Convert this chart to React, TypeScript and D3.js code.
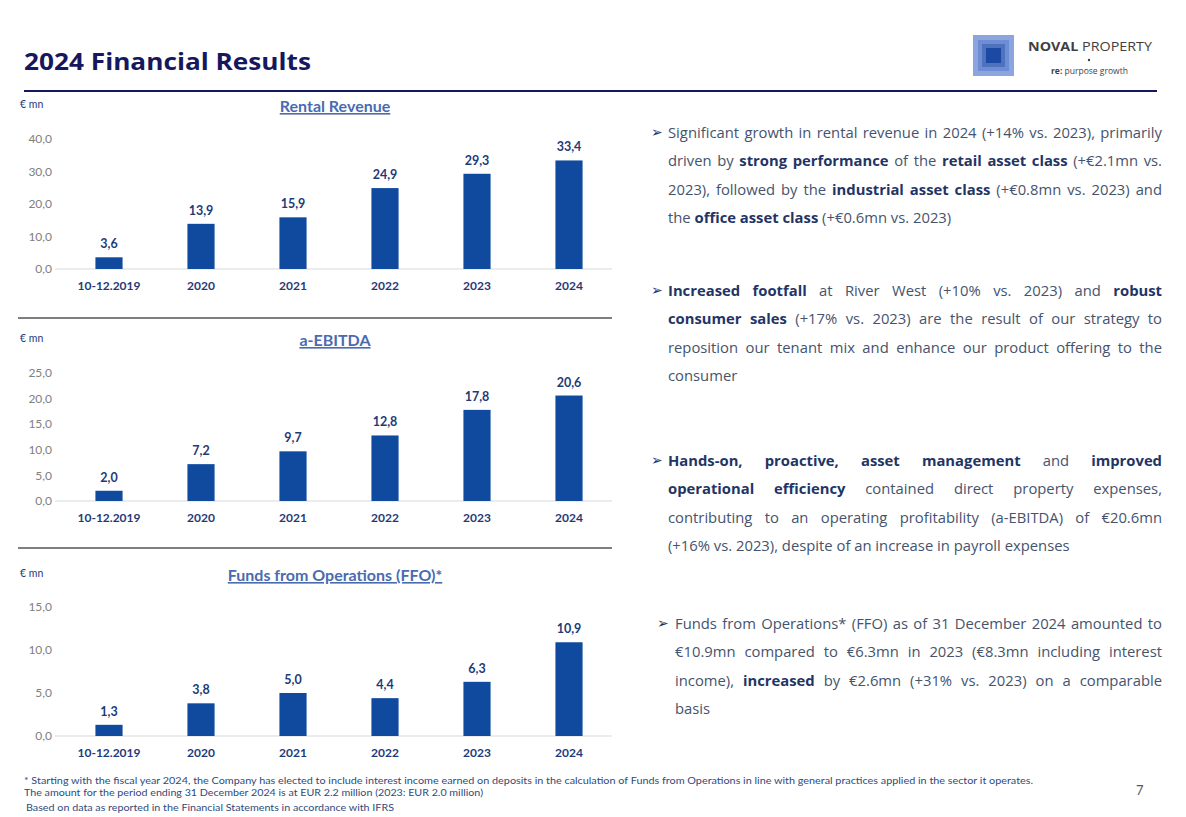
import * as d3 from 'd3';
import React from 'react';

// chart data
const categories = ['10-12.2019', '2020', '2021', '2022', '2023', '2024'];
const rentalRevenue = [3.6, 13.9, 15.9, 24.9, 29.3, 33.4];
const aEbitda = [2.0, 7.2, 9.7, 12.8, 17.8, 20.6];
const ffo = [1.3, 3.8, 5.0, 4.4, 6.3, 10.9];

const rentalTicks = [0, 10, 20, 30, 40];
const ebitdaTicks = [0, 5, 10, 15, 20, 25];
const ffoTicks = [0, 5, 10, 15];

const bullets = [
  [
    'Significant growth in rental revenue in 2024 (+14% vs. 2023), primarily',
    'driven by **strong performance** of the **retail asset class** (+€2.1mn vs.',
    '2023), followed by the **industrial asset class** (+€0.8mn vs. 2023) and',
    'the **office asset class** (+€0.6mn vs. 2023)',
  ],
  [
    '**Increased footfall** at River West (+10% vs. 2023) and **robust**',
    '**consumer sales** (+17% vs. 2023) are the result of our strategy to',
    'reposition our tenant mix and enhance our product offering to the',
    'consumer',
  ],
  [
    '**Hands-on, proactive, asset management** and **improved**',
    '**operational efficiency** contained direct property expenses,',
    'contributing to an operating profitability (a-EBITDA) of €20.6mn',
    '(+16% vs. 2023), despite of an increase in payroll expenses',
  ],
  [
    'Funds from Operations* (FFO) as of 31 December 2024 amounted to',
    '€10.9mn compared to €6.3mn in 2023 (€8.3mn including interest',
    'income), **increased** by €2.6mn (+31% vs. 2023) on a comparable',
    'basis',
  ],
];

const footnotes = [
  '* Starting with the fiscal year 2024, the Company has elected to include interest income earned on deposits in the calculation of Funds from Operations in line with general practices applied in the sector it operates.',
  'The amount for the period ending 31 December 2024 is at EUR 2.2 million (2023: EUR 2.0 million)',
  'Based on data as reported in the Financial Statements in accordance with IFRS',
];

const NAVY = '#16185e';
const BAR = '#0f4a9f';
const LABEL = '#1f3a78';
const TITLE = '#4a6bb0';
const BODY = '#45536d';
const BOLD = '#1f3566';
const FONT = '"Open Sans", sans-serif';
const CHART_FONT = 'Lato, sans-serif';

const fmt = (v: number) => d3.format('.1f')(v).replace('.', ',');

const measureCtx = document.createElement('canvas').getContext('2d')!;
const measure = (t: string, bold: boolean, size: number) => {
  measureCtx.font = `${bold ? 700 : 400} ${size}px "Open Sans"`;
  return measureCtx.measureText(t).width;
};

interface BarPanelProps {
  title: string;
  values: number[];
  ticks: number[];
  top: number; // y of the "€ mn" baseline
  y0: number; // pixel of zero line
  yMax: number; // pixel of top tick
}

const BarPanel = ({ title, values, ticks, top, y0, yMax }: BarPanelProps) => {
  const x = d3
    .scaleBand<string>()
    .domain(categories)
    .range([63, 615])
    .paddingInner(0.705)
    .paddingOuter(0.3525);
  const y = d3
    .scaleLinear()
    .domain([0, d3.max(ticks)!])
    .range([y0, yMax]);

  return (
    <g>
      <text x={20} y={top} fontSize={10.5} fill={LABEL} fontFamily={CHART_FONT}>
        € mn
      </text>
      <text
        x={335}
        y={top + 4}
        textAnchor="middle"
        fontSize={16}
        fontWeight={700}
        fill={TITLE}
        fontFamily={CHART_FONT}
        style={{ textDecoration: 'underline' }}
      >
        {title}
      </text>
      {ticks.map((t) => (
        <text
          key={t}
          x={52}
          y={y(t)}
          dy="0.35em"
          textAnchor="end"
          fontSize={12}
          fill="#808080"
          fontFamily={CHART_FONT}
        >
          {fmt(t)}
        </text>
      ))}
      <line x1={55} x2={612} y1={y0} y2={y0} stroke="#d9d9d9" strokeWidth={1} />
      {values.map((v, i) => (
        <g key={categories[i]}>
          <rect
            x={x(categories[i])}
            y={y(v)}
            width={x.bandwidth()}
            height={y0 - y(v)}
            fill={BAR}
          />
          <text
            x={x(categories[i])! + x.bandwidth() / 2}
            y={y(v) - 9}
            textAnchor="middle"
            fontSize={12.5}
            fontWeight={700}
            fill={LABEL}
            fontFamily={CHART_FONT}
          >
            {fmt(v)}
          </text>
          <text
            x={x(categories[i])! + x.bandwidth() / 2}
            y={y0 + 21}
            textAnchor="middle"
            fontSize={12}
            fontWeight={700}
            fill={LABEL}
            fontFamily={CHART_FONT}
          >
            {categories[i]}
          </text>
        </g>
      ))}
    </g>
  );
};

// split "**bold** text" into words with a bold flag
const toWords = (line: string) => {
  const words: { t: string; b: boolean }[] = [];
  line.split('**').forEach((part, i) => {
    part
      .split(' ')
      .filter((w) => w.length > 0)
      .forEach((w) => words.push({ t: w, b: i % 2 === 1 }));
  });
  return words;
};

const Paragraph = ({
  lines,
  x0,
  x1,
  y,
  arrowX,
}: {
  lines: string[];
  x0: number;
  x1: number;
  y: number;
  arrowX: number;
}) => {
  const size = 14.8;
  const lh = 28.4;
  return (
    <g>
      <text x={arrowX} y={y - 1} fontSize={14} fill={BOLD} fontFamily="DejaVu Sans">
        ➢
      </text>
      {lines.map((line, li) => {
        const words = toWords(line);
        const widths = words.map((w) => measure(w.t, w.b, size));
        const total = d3.sum(widths);
        const last = li === lines.length - 1;
        const gap = last || words.length < 2
          ? measure(' ', false, size)
          : (x1 - x0 - total) / (words.length - 1);
        let cx = x0;
        return (
          <text key={li} y={y + li * lh} fontSize={size} fontFamily={FONT}>
            {words.map((w, wi) => {
              const px = cx;
              cx += widths[wi] + gap;
              return (
                <tspan
                  key={wi}
                  x={px}
                  fontWeight={w.b ? 700 : 400}
                  fill={w.b ? BOLD : BODY}
                >
                  {w.t}
                </tspan>
              );
            })}
          </text>
        );
      })}
    </g>
  );
};

const App = () => {
  return (
    <svg
      width={1186}
      height={817}
      style={{ position: 'absolute', left: 0, top: 0, background: '#fff' }}
    >
      <rect width={1186} height={817} fill="#fff" />

      {/* header */}
      <text
        x={24}
        y={70}
        fontSize={24}
        fontWeight={700}
        fill={NAVY}
        fontFamily={FONT}
        textLength={287}
        lengthAdjust="spacingAndGlyphs"
      >
        2024 Financial Results
      </text>
      <line x1={24} x2={1157} y1={91} y2={91} stroke={NAVY} strokeWidth={2} />

      {/* logo */}
      <rect x={973} y={35} width={41} height={41} fill="#8da5df" />
      <rect x={978} y={40} width={31} height={31} fill="#6f8dd2" />
      <rect x={982} y={44} width={23} height={23} fill="#4f72bf" />
      <rect x={986} y={48} width={15} height={15} fill="#1c4aa3" />
      <text
        x={1028}
        y={51}
        fontSize={13}
        fill="#3f3f3f"
        fontFamily={FONT}
        textLength={124}
        lengthAdjust="spacingAndGlyphs"
      >
        <tspan fontWeight={700}>NOVAL</tspan> PROPERTY
      </text>
      <circle cx={1089} cy={60} r={1.2} fill="#3f3f3f" />
      <text
        x={1051}
        y={74}
        fontSize={8.5}
        fill="#3f3f3f"
        fontFamily={FONT}
        textLength={77}
        lengthAdjust="spacingAndGlyphs"
      >
        <tspan fontWeight={700}>re:</tspan> purpose growth
      </text>

      {/* charts */}
      <BarPanel title="Rental Revenue" values={rentalRevenue} ticks={rentalTicks} top={108} y0={269} yMax={139} />
      <line x1={18} x2={612} y1={318} y2={318} stroke="#7f7f7f" strokeWidth={2} />
      <BarPanel title="a-EBITDA" values={aEbitda} ticks={ebitdaTicks} top={342} y0={501} yMax={373} />
      <line x1={18} x2={612} y1={548} y2={548} stroke="#7f7f7f" strokeWidth={2} />
      <BarPanel title="Funds from Operations (FFO)*" values={ffo} ticks={ffoTicks} top={577} y0={736} yMax={607} />

      {/* commentary */}
      <Paragraph lines={bullets[0]} x0={668} x1={1162} y={138} arrowX={651} />
      <Paragraph lines={bullets[1]} x0={668} x1={1162} y={296} arrowX={651} />
      <Paragraph lines={bullets[2]} x0={668} x1={1162} y={466} arrowX={651} />
      <Paragraph lines={bullets[3]} x0={675} x1={1162} y={629} arrowX={657} />

      {/* footnotes */}
      <text x={24} y={784} fontSize={10} fill="#2f4a7c" fontFamily={CHART_FONT} textLength={1009} lengthAdjust="spacingAndGlyphs">
        {footnotes[0]}
      </text>
      <text x={24} y={796} fontSize={10} fill="#2f4a7c" fontFamily={CHART_FONT} textLength={459} lengthAdjust="spacingAndGlyphs">
        {footnotes[1]}
      </text>
      <text x={26} y={811} fontSize={10} fill="#2f4a7c" fontFamily={CHART_FONT} textLength={368} lengthAdjust="spacingAndGlyphs">
        {footnotes[2]}
      </text>
      <text x={1136} y={795} fontSize={13} fill="#595959" fontFamily={CHART_FONT}>
        7
      </text>
    </svg>
  );
};

export default App;
